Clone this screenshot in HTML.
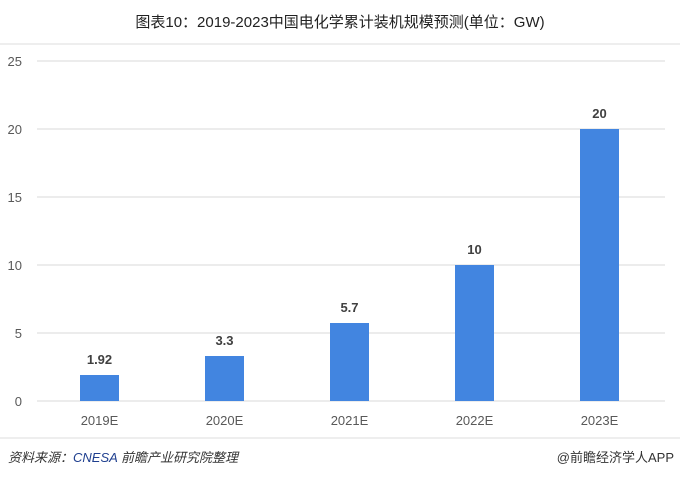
<!DOCTYPE html>
<html><head><meta charset="utf-8"><style>
body{margin:0;background:#fff;}
</style></head><body>
<svg width="680" height="478" xmlns="http://www.w3.org/2000/svg" font-family="Liberation Sans, Noto Sans CJK SC, sans-serif">
<rect width="680" height="478" fill="#fff"/>
<text x="340" y="27" text-anchor="middle" font-size="15" fill="#222">图表10：2019-2023中国电化学累计装机规模预测(单位：GW)</text>
<line x1="0" y1="44" x2="680" y2="44" stroke="#ddd"/>
<line x1="0" y1="438" x2="680" y2="438" stroke="#ddd"/>
<g stroke="#d9d9d9" stroke-width="1">
<line x1="37" y1="61" x2="665" y2="61"/><line x1="37" y1="129" x2="665" y2="129"/>
<line x1="37" y1="197" x2="665" y2="197"/><line x1="37" y1="265" x2="665" y2="265"/>
<line x1="37" y1="333" x2="665" y2="333"/><line x1="37" y1="401" x2="665" y2="401"/>
</g>
<g font-size="13" fill="#595959" text-anchor="end">
<text x="22" y="66">25</text><text x="22" y="134">20</text><text x="22" y="202">15</text>
<text x="22" y="270">10</text><text x="22" y="338">5</text><text x="22" y="406">0</text>
</g>
<g fill="#4285e0">
<rect x="80" y="375" width="39" height="26"/>
<rect x="205" y="356" width="39" height="45"/>
<rect x="330" y="323" width="39" height="78"/>
<rect x="455" y="265" width="39" height="136"/>
<rect x="580" y="129" width="39" height="272"/>
</g>
<g font-size="13" fill="#404040" text-anchor="middle" font-weight="bold">
<text x="99.5" y="364">1.92</text><text x="224.5" y="345">3.3</text><text x="349.5" y="312">5.7</text>
<text x="474.5" y="254">10</text><text x="599.5" y="118">20</text>
</g>
<g font-size="13" fill="#595959" text-anchor="middle">
<text x="99.5" y="425">2019E</text><text x="224.5" y="425">2020E</text><text x="349.5" y="425">2021E</text>
<text x="474.5" y="425">2022E</text><text x="599.5" y="425">2023E</text>
</g>
<text x="8" y="462" font-size="13" font-style="italic" fill="#333">资料来源：<tspan fill="#1f3f8f">CNESA</tspan> 前瞻产业研究院整理</text>
<text x="674" y="462" font-size="13" fill="#333" text-anchor="end">@前瞻经济学人APP</text>
</svg>
</body></html>
